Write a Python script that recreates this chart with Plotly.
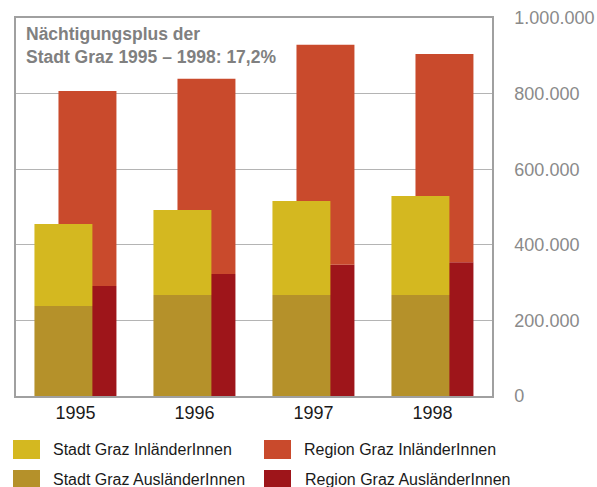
import plotly.graph_objects as go

years = ["1995", "1996", "1997", "1998"]
stadt_aus = [238000, 267000, 267000, 267000]
stadt_total = [455000, 492000, 516000, 529000]
region_aus = [291000, 323000, 347000, 354000]
region_total = [807000, 839000, 929000, 905000]
stadt_inl = [t - a for t, a in zip(stadt_total, stadt_aus)]
region_inl = [t - a for t, a in zip(region_total, region_aus)]

y_tickvals = [0, 200000, 400000, 600000, 800000, 1000000]
y_ticktext = ["0", "200.000", "400.000", "600.000", "800.000", "1.000.000"]

names = ["Stadt Graz InländerInnen", "Stadt Graz AusländerInnen",
         "Region Graz InländerInnen", "Region Graz AusländerInnen"]
colors = {"si": "#D4B820", "sa": "#B5912A", "ri": "#C94A2C", "ra": "#9E151A"}

W, H = 597, 487
L, R, T, B = 16, 492, 18, 396

fig = go.Figure()
reg_off, stadt_off, bw = -0.143, -0.345, 0.487
fig.add_trace(go.Bar(x=years, y=region_aus, base=[0]*4, marker_color=colors["ra"],
                     offset=reg_off, width=bw, marker_line_width=0, name=names[3]))
fig.add_trace(go.Bar(x=years, y=region_inl, base=region_aus, marker_color=colors["ri"],
                     offset=reg_off, width=bw, marker_line_width=0, name=names[2]))
fig.add_trace(go.Bar(x=years, y=stadt_aus, base=[0]*4, marker_color=colors["sa"],
                     offset=stadt_off, width=bw, marker_line_width=0, name=names[1]))
fig.add_trace(go.Bar(x=years, y=stadt_inl, base=stadt_aus, marker_color=colors["si"],
                     offset=stadt_off, width=bw, marker_line_width=0, name=names[0]))

def px(x):
    return (x - L) / (R - L)

def py(y):
    return (B - y) / (B - T)

FONT = "Liberation Sans, Arial, sans-serif"
shapes = []
annotations = []
legend_items = [
    (names[0], colors["si"], 13, 440, 51),
    (names[2], colors["ri"], 264, 440, 302),
    (names[1], colors["sa"], 13, 470, 51),
    (names[3], colors["ra"], 264, 470, 303),
]
for name, col, sx, sy, tx in legend_items:
    shapes.append(dict(type="rect", xref="paper", yref="paper",
                       x0=px(sx), x1=px(sx + 27), y0=py(sy), y1=py(sy + 19),
                       fillcolor=col, line_width=0))
    annotations.append(dict(text=name, xref="paper", yref="paper",
                            x=px(tx), y=py(sy + 9.5), xanchor="left", yanchor="middle",
                            showarrow=False, font=dict(size=16, color="#1a1a1a", family=FONT)))

annotations.append(dict(text="Nächtigungsplus der<br>Stadt Graz 1995 – 1998: 17,2%",
                        xref="paper", yref="paper", x=px(24), y=py(22),
                        xanchor="left", yanchor="top", align="left", showarrow=False,
                        font=dict(size=17.5, color="#808080", family=FONT, weight="bold")))

fig.update_layout(
    width=W, height=H,
    margin=dict(l=L, r=W - R, t=T, b=H - B, autoexpand=False),
    barmode="overlay",
    showlegend=False,
    plot_bgcolor="white", paper_bgcolor="white",
    font=dict(family=FONT),
    shapes=shapes,
    annotations=annotations,
    xaxis=dict(type="category", range=[-0.5, 3.5], showgrid=False, automargin=False,
               showline=True, mirror=True, linecolor="#a0a0a0", linewidth=1.5,
               ticks="", tickfont=dict(size=18, color="#1a1a1a")),
    yaxis=dict(side="right", range=[0, 1000000], tickvals=y_tickvals, ticktext=y_ticktext,
               showgrid=True, gridcolor="#b4b4b4", gridwidth=1.2, automargin=False,
               showline=True, mirror=True, linecolor="#a0a0a0", linewidth=1.5,
               zeroline=False, ticks="", ticklabelstandoff=17,
               tickfont=dict(size=18, color="#8a8a8a")),
)

fig.write_html("out.html", config={"displayModeBar": False},
               post_script="document.body.style.margin='0';document.body.style.padding='0';")
